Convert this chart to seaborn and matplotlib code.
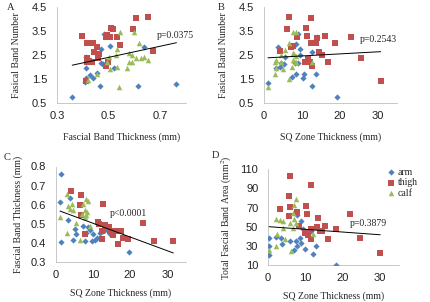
"""
Fascial band scatter panels (A-D)
"""

# Libraries
import numpy as np
import pandas as pd
import seaborn as sns
import matplotlib as mpl
import matplotlib.pyplot as plt

# -------------------------
# Configuration
# -------------------------
sns.set_style("white")
mpl.rcParams['font.family'] = ['Liberation Sans', 'DejaVu Sans']
mpl.rcParams['mathtext.fontset'] = 'stix'
SERIF = ['Liberation Serif', 'DejaVu Serif']

# -------------------------
# Data
# -------------------------
groups = ['arm', 'thigh', 'calf']
colors = {'arm': '#4f81bd', 'thigh': '#c0504d', 'calf': '#9bbb59'}
markers = {'arm': 'D', 'thigh': 's', 'calf': '^'}
sizes = {'arm': 10, 'thigh': 14, 'calf': 16}

# Panel A: fascial band thickness (mm) vs fasical band number
a_arm_x = [0.359, 0.408, 0.412, 0.438, 0.428, 0.454, 0.467, 0.412, 0.414, 0.412,
           0.471, 0.484, 0.504, 0.471, 0.478, 0.484, 0.520, 0.638, 0.614, 0.763]
a_arm_y = [0.75, 1.38, 1.52, 1.52, 1.66, 1.73, 1.20, 2.40, 1.94, 2.22,
           2.74, 3.38, 2.89, 2.15, 2.11, 2.08, 1.97, 2.85, 1.20, 1.27]
a_thigh_x = [0.397, 0.418, 0.441, 0.454, 0.445, 0.418, 0.425, 0.434, 0.464, 0.458,
             0.417, 0.509, 0.517, 0.493, 0.504, 0.488, 0.533, 0.546, 0.496, 0.488,
             0.605, 0.651, 0.596, 0.671, 0.412]
a_thigh_y = [3.30, 2.99, 2.99, 2.85, 2.64, 2.36, 2.25, 2.22, 2.53, 2.36,
             2.22, 3.62, 3.58, 3.34, 3.27, 3.24, 3.24, 2.92, 2.22, 2.05,
             4.04, 4.11, 3.58, 2.68, 1.41]
a_calf_x = [0.546, 0.599, 0.618, 0.533, 0.530, 0.579, 0.592, 0.592, 0.579, 0.605,
            0.625, 0.651, 0.636, 0.500, 0.493, 0.507, 0.533, 0.572, 0.454, 0.421,
            0.539]
a_calf_y = [3.48, 3.48, 3.02, 2.75, 2.50, 2.57, 2.50, 2.22, 2.22, 2.36,
            2.36, 2.29, 2.43, 2.43, 2.22, 1.90, 2.01, 1.94, 1.69, 1.45,
            1.14]

# Panel B: SQ zone thickness (mm) vs fasical band number
b_arm_x = [3.7, 8.5, 8.9, 9.6, 12.5, 14.0, 9.6, 5.6, 4.6, 5.3,
           3.2, 4.1, 8.1, 8.9, 8.3, 7.4, 10.5, 10.3, 13.8, 12.6,
           1.05, 19.2]
b_arm_y = [2.85, 2.95, 3.37, 2.74, 2.64, 3.27, 2.50, 2.43, 2.18, 2.12,
           1.94, 2.01, 2.18, 2.18, 1.70, 1.56, 1.70, 1.52, 1.70, 1.20,
           1.31, 0.75]
b_thigh_x = [6.5, 12.3, 6.1, 11.1, 8.8, 11.4, 16.1, 18.8, 22.8, 12.3,
             13.8, 13.9, 7.2, 4.1, 14.6, 15.3, 10.7, 11.7, 12.0, 12.6,
             16.8, 25.6, 30.7, 7.6]
b_thigh_y = [4.11, 4.04, 3.58, 3.62, 3.24, 3.31, 3.30, 2.99, 3.27, 2.99,
             2.99, 3.20, 2.85, 2.68, 2.64, 2.50, 2.22, 2.32, 2.22, 2.05,
             2.22, 2.36, 1.41, 2.88]
b_calf_x = [7.6, 8.3, 6.5, 4.4, 5.4, 7.6, 8.0, 8.5, 7.6, 8.5,
            2.8, 3.2, 4.6, 5.0, 3.2, 2.8, 6.5, 7.4, 12.6, 1.05]
b_calf_y = [3.48, 3.45, 2.99, 2.50, 2.71, 2.60, 2.53, 2.46, 2.29, 2.22,
            2.22, 2.29, 2.22, 1.90, 1.94, 1.70, 1.48, 2.01, 2.22, 1.14]

# Panel C: SQ zone thickness (mm) vs fascial band thickness (mm)
c_arm_x = [1.5, 1.2, 1.4, 3.9, 3.4, 5.2, 4.8, 5.5, 7.5, 7.9,
           8.3, 8.8, 9.2, 10.1, 10.6, 9.7, 11.0, 11.9, 12.8, 13.3,
           14.6, 19.7]
c_arm_y = [0.761, 0.616, 0.407, 0.633, 0.519, 0.472, 0.414, 0.449, 0.489, 0.411,
           0.454, 0.484, 0.467, 0.449, 0.414, 0.411, 0.428, 0.454, 0.463, 0.467,
           0.449, 0.354]
c_thigh_x = [4.2, 6.8, 12.8, 6.6, 6.8, 11.5, 11.7, 7.9, 12.6, 12.4,
             13.3, 14.4, 15.3, 15.9, 14.6, 17.5, 18.0, 16.8, 19.5, 23.5,
             26.4, 31.6]
c_thigh_y = [0.670, 0.651, 0.604, 0.598, 0.546, 0.511, 0.498, 0.449, 0.463, 0.418,
             0.495, 0.484, 0.440, 0.463, 0.463, 0.463, 0.428, 0.396, 0.419, 0.502,
             0.411, 0.411]
c_calf_x = [3.0, 1.2, 3.0, 3.4, 4.8, 4.3, 7.5, 8.2, 8.8, 7.9,
            8.5, 7.9, 6.6, 5.5, 8.3, 9.2, 3.9, 7.0]
c_calf_y = [0.656, 0.533, 0.454, 0.595, 0.572, 0.604, 0.604, 0.630, 0.621, 0.572,
            0.560, 0.533, 0.414, 0.502, 0.547, 0.489, 0.577, 0.551]

# Panel D: SQ zone thickness (mm) vs total fascial band area (mm2)
d_arm_x = [7.9, 8.9, 0.4, 0.3, 0.3, 2.1, 3.6, 3.8, 5.8, 6.9,
           7.9, 7.6, 8.5, 8.8, 9.8, 11.6, 13.0, 12.1, 18.3, 9.4]
d_arm_y = [62.3, 56.0, 38.6, 29.9, 20.4, 39.3, 37.9, 31.6, 35.1, 25.3,
           29.9, 35.1, 38.6, 33.3, 26.4, 45.5, 29.9, 21.1, 10.0, 48.0]
d_thigh_x = [5.8, 11.6, 5.5, 10.3, 10.5, 5.8, 7.9, 5.6, 3.1, 13.4,
             13.2, 15.2, 13.9, 14.5, 11.6, 9.8, 10.7, 11.4, 16.1, 18.3,
             21.9, 24.6, 30.1, 8.2]
d_thigh_y = [103.0, 93.6, 82.1, 71.7, 63.0, 70.6, 65.4, 60.9, 68.9, 59.5,
             49.7, 50.8, 45.5, 45.5, 47.3, 43.1, 41.4, 36.8, 37.5, 47.6,
             63.0, 37.9, 22.9, 50.8]
d_calf_x = [7.6, 6.9, 6.7, 2.1, 3.1, 4.0, 5.8, 7.1, 7.6, 6.7,
            4.0, 2.5, 4.6, 6.1, 2.1, 0.3, 12.1]
d_calf_y = [79.3, 72.7, 64.7, 57.7, 56.7, 56.0, 54.2, 57.7, 54.2, 49.0,
            49.0, 42.7, 36.8, 24.6, 29.9, 25.3, 42.0]

# Axis labels / annotations
p_texts = ['p=0.0375', 'p=0.2543', 'p<0.0001', 'p=0.3879']
letters = ['A', 'B', 'C', 'D']
xlabels = ['Fascial Band Thickness (mm)', 'SQ Zone Thickness (mm)',
           'SQ Zone Thickness (mm)', 'SQ Zone Thickness (mm)']
ylabels = ['Fasical Band Number', 'Fasical Band Number',
           'Fascial Band Thickness (mm)', 'Total Fascial Band Area (mm$^{2}$)']

# Ticks
a_xticks = [0.3, 0.4, 0.5, 0.6, 0.7, 0.8]
a_xticklabels = ['0.3', '', '0.5', '', '0.7', '']
sq_xticks = [0, 5, 10, 15, 20, 25, 30, 35]
sq_xticklabels = ['0', '', '10', '', '20', '', '30', '']
num_yticks = [0.5, 1.0, 1.5, 2.0, 2.5, 3.0, 3.5, 4.0, 4.5]
num_yticklabels = ['0.5', '', '1.5', '', '2.5', '', '3.5', '', '4.5']
thk_yticks = [0.3, 0.4, 0.5, 0.6, 0.7, 0.8]
thk_yticklabels = ['0.3', '0.4', '0.5', '0.6', '0.7', '0.8']
area_yticks = [10, 30, 50, 70, 90, 110]
area_yticklabels = ['10', '30', '50', '70', '90', '110']


def make_df(ax_, ay_, tx_, ty_, cx_, cy_):
    return pd.concat([
        pd.DataFrame({'x': ax_, 'y': ay_, 'site': 'arm'}),
        pd.DataFrame({'x': tx_, 'y': ty_, 'site': 'thigh'}),
        pd.DataFrame({'x': cx_, 'y': cy_, 'site': 'calf'}),
    ], ignore_index=True)


panels = [
    make_df(a_arm_x, a_arm_y, a_thigh_x, a_thigh_y, a_calf_x, a_calf_y),
    make_df(b_arm_x, b_arm_y, b_thigh_x, b_thigh_y, b_calf_x, b_calf_y),
    make_df(c_arm_x, c_arm_y, c_thigh_x, c_thigh_y, c_calf_x, c_calf_y),
    make_df(d_arm_x, d_arm_y, d_thigh_x, d_thigh_y, d_calf_x, d_calf_y),
]

# -------------------------
# Figure
# -------------------------
W, H = 430, 302
f = plt.figure(figsize=(W / 100, H / 100), dpi=100)


def px_axes(left, top, right, bottom):
    return f.add_axes([left / W, 1 - bottom / H, (right - left) / W, (bottom - top) / H])


axes = [px_axes(57, 7.3, 186, 102.7),
        px_axes(264, 7.3, 397, 102.7),
        px_axes(55.5, 166.5, 186, 262),
        px_axes(268, 169.3, 398.5, 265)]

xlims = [(0.3, 0.8), (0, 35), (0, 35), (0, 35)]
ylims = [(0.5, 4.5), (0.5, 4.5), (0.3, 0.8), (10, 110)]
xt = [(a_xticks, a_xticklabels), (sq_xticks, sq_xticklabels),
      (sq_xticks, sq_xticklabels), (sq_xticks, sq_xticklabels)]
yt = [(num_yticks, num_yticklabels), (num_yticks, num_yticklabels),
      (thk_yticks, thk_yticklabels), (area_yticks, area_yticklabels)]
xlabelpads = [8.5, 8.5, 5.5, 5.5]
ylabelpads = [8, 8, 5, 5]
# p text positions (pixels)
p_pos = [(157, 35), (360, 40), (110, 213.7), (350, 223.7)]
letter_pos = [(7, 7), (218, 7), (4, 158), (212, 156)]

for i, (ax, df) in enumerate(zip(axes, panels)):
    for g in groups:
        sub = df[df.site == g]
        sns.scatterplot(data=sub, x='x', y='y', ax=ax, color=colors[g],
                        marker=markers[g], s=sizes[g], linewidth=0,
                        label=g, legend=False, zorder=3)
    # Linear trend over all sites
    sns.regplot(data=df, x='x', y='y', ax=ax, scatter=False, ci=None,
                truncate=True, line_kws={'color': 'black', 'lw': 0.7, 'zorder': 4})

    ax.set_xlim(*xlims[i])
    ax.set_ylim(*ylims[i])
    ax.set_xticks(xt[i][0], xt[i][1])
    ax.set_yticks(yt[i][0], yt[i][1])
    ax.tick_params(axis='both', direction='in', length=3, width=0.6,
                   color='#bfbfbf', labelsize=8, labelcolor='#222222')
    ax.tick_params(axis='x', pad=6)
    ax.tick_params(axis='y', pad=7)
    sns.despine(ax=ax)
    for s in ['left', 'bottom']:
        ax.spines[s].set_color('#bfbfbf')
        ax.spines[s].set_linewidth(0.6)

    ax.set_xlabel(xlabels[i], fontsize=7, family=SERIF, labelpad=xlabelpads[i])
    ax.set_ylabel(ylabels[i], fontsize=7, family=SERIF, labelpad=ylabelpads[i])

    px, py = p_pos[i]
    f.text(px / W, 1 - py / H, p_texts[i], fontsize=7, family=SERIF,
           ha='left', va='center')
    lx, ly = letter_pos[i]
    f.text(lx / W, 1 - ly / H, letters[i], fontsize=7.5, family=SERIF,
           ha='left', va='center')

# Legend (panel D)
handles, labels = axes[3].get_legend_handles_labels()
f.legend(handles, labels, loc='upper left', bbox_to_anchor=(386 / W, 1 - 168 / H),
         frameon=False, prop={'family': SERIF, 'size': 7},
         handletextpad=0.2, labelspacing=0.15, handlelength=1.0,
         borderaxespad=0, borderpad=0)

plt.savefig('out.png', dpi=100)
